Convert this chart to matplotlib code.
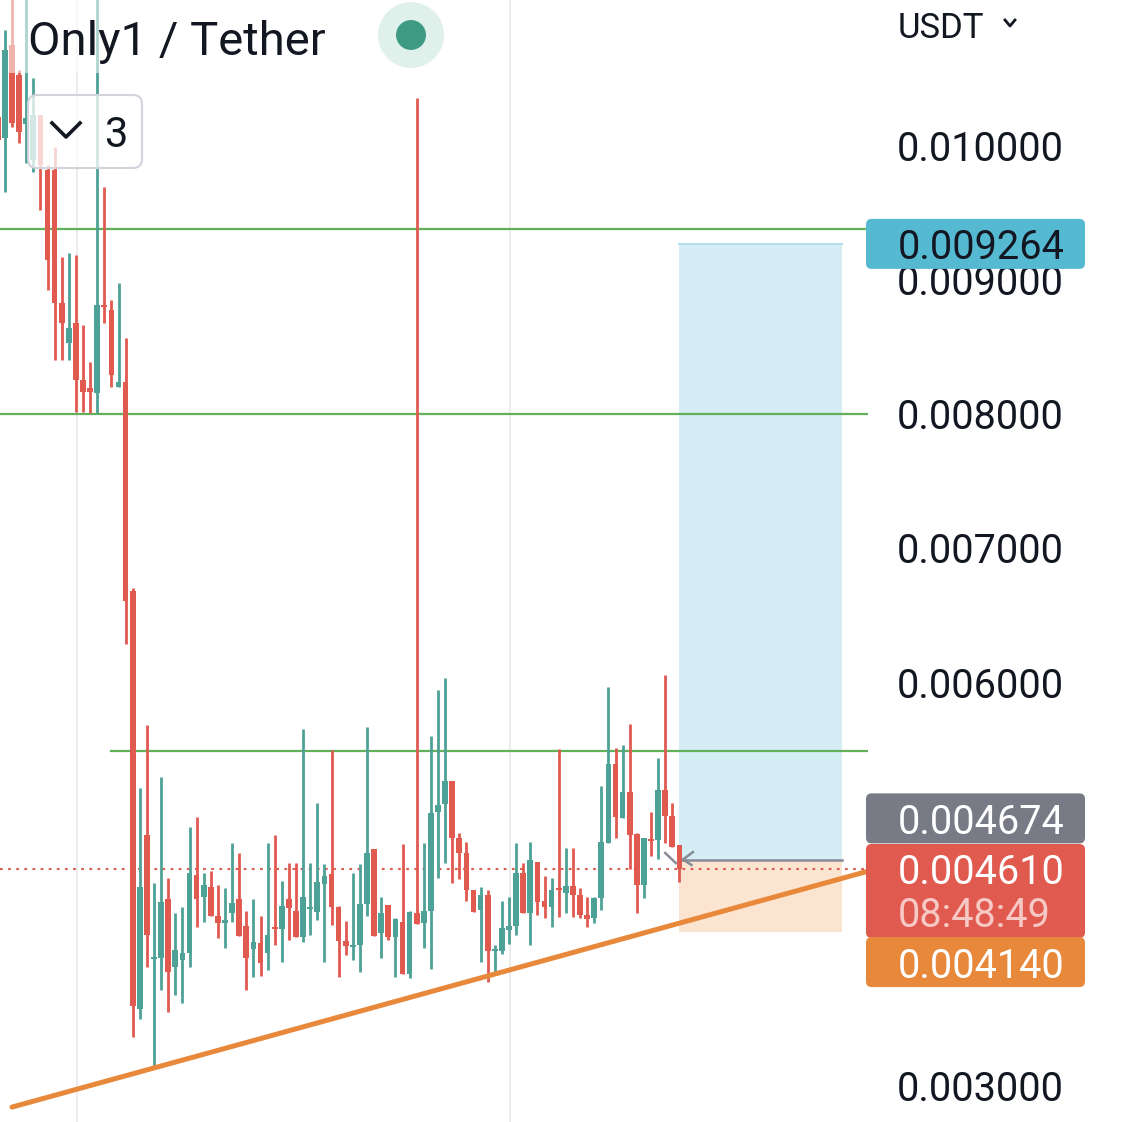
import numpy as np
import matplotlib.pyplot as plt
from matplotlib.patches import FancyBboxPatch, Rectangle, Circle

plt.rcParams['font.family'] = ['Roboto', 'DejaVu Sans']

# OHLC in 1e-6 USDT, first candle (-1) is cut by the left edge
candle_idx = list(range(-1, 96))
opens = [10209, 10052, 10745, 10522, 10157, 9889, 10224, 9814, 9814, 8824,
         8526, 8675, 8251, 8191, 8154, 8809, 8772, 8198, 8236, 6679,
         3567, 4863, 3939, 3947, 4386, 3880, 3932, 3984, 4565, 4401,
         4475, 4259, 4207, 4282, 4386, 4185, 4014, 4058, 3984, 4178,
         4163, 4386, 4297, 4103, 4312, 4289, 4498, 4572, 4327, 4073,
         4029, 4044, 4349, 4758, 4133, 4341, 4103, 4215, 3828, 4282,
         4207, 4297, 5034, 5094, 5265, 4840, 4729, 4453, 4304, 4416,
         3999, 3999, 4155, 4185, 4580, 4282, 4662, 4371, 4327, 4468,
         4431, 4483, 4416, 4267, 4245, 4393, 4803, 5391, 4989, 5183,
         4870, 4490, 4833, 4825, 5198, 5004, 4788]
highs = [10335, 10857, 11154, 10559, 11117, 10499, 10224, 9851, 9985, 9166,
         9196, 9181, 8660, 8385, 11229, 9688, 8846, 8973, 8563, 6702,
         5213, 5682, 4505, 5294, 4542, 4282, 4327, 4922, 4997, 4580,
         4595, 4490, 4468, 4803, 4729, 4297, 4386, 4259, 4803, 4863,
         4520, 4654, 4654, 5652, 4654, 5101, 4647, 5495, 4334, 4222,
         4580, 4647, 5667, 4758, 4401, 4341, 4245, 4796, 4297, 10350,
         4803, 5600, 5942, 6032, 5265, 4877, 4810, 4453, 4475, 4453,
         4044, 4371, 4401, 4803, 4654, 4810, 4662, 4557, 4542, 5503,
         4766, 4766, 4468, 4401, 4401, 5227, 5965, 5510, 5533, 5689,
         4877, 4840, 5034, 5436, 6054, 5101, 4788]
lows = [9851, 9650, 10134, 10015, 9866, 9799, 9516, 8921, 8399, 8399,
        8399, 8012, 8012, 8005, 8005, 8675, 8198, 8198, 6285, 3358,
        3493, 3880, 3128, 3708, 3545, 3671, 3612, 3880, 4178, 4215,
        4259, 4096, 4021, 4215, 4111, 3708, 3805, 3813, 3857, 4044,
        3917, 4081, 4103, 4066, 4118, 4230, 3917, 4192, 3805, 3969,
        3932, 3842, 4259, 4111, 3947, 4081, 3805, 3828, 3798, 4200,
        4021, 3865, 4542, 4654, 4505, 4535, 4371, 4289, 3917, 3768,
        3828, 3977, 4051, 4118, 4282, 4044, 4267, 4245, 4178, 4252,
        4282, 4252, 4245, 4178, 4207, 4304, 4803, 4840, 4989, 4609,
        4282, 4393, 4706, 4684, 4803, 4773, 4513]
closes = [10038, 10708, 10164, 10097, 10201, 10224, 9851, 9144, 8824, 8675,
          8638, 8251, 8161, 8161, 8809, 8794, 8288, 8236, 6605, 3589,
          4475, 4118, 3954, 4364, 3842, 4006, 3984, 4580, 4386, 4490,
          4259, 4207, 4230, 4356, 4111, 3947, 4066, 3910, 4118, 4163,
          4334, 4319, 4103, 4401, 4319, 4513, 4557, 4327, 4073, 4036,
          4044, 4349, 4729, 4111, 4282, 4103, 4237, 3828, 4289, 4200,
          4297, 5026, 5086, 5265, 4840, 4729, 4453, 4289, 4416, 3999,
          4006, 4170, 4185, 4580, 4282, 4676, 4364, 4327, 4453, 4453,
          4483, 4416, 4267, 4237, 4393, 4810, 5391, 4997, 5183, 4863,
          4490, 4840, 4818, 5198, 5004, 4773, 4610]

entry_price = 0.004674
last_price = 0.004610
stop_price = 0.004140
target_price = 0.009264
resistance_levels = [0.009375, 0.008000]
range_top = 0.005488
trend_x = [1.0, 121.6]
trend_y = [0.002837, 0.004594]
# 0.004 and 0.005 sit under the price boxes, so they are not shown
price_ticks = [0.003, 0.006, 0.007, 0.008, 0.009, 0.010]
time_left = '08:48:49'

UP = '#4ea196'
DOWN = '#e05a50'
W, H = 1125, 1122

fig = plt.figure(figsize=(W / 100, H / 100), dpi=100)
ax = fig.add_axes([0, 0, 868 / W, 1])
ax.set_xlim(-0.69, 121.56)
ax.set_ylim(0.002726, 0.01108)
for s in ax.spines.values():
    s.set_visible(False)
ax.set_xticks([])
ax.yaxis.tick_right()
ax.set_yticks(price_ticks)
ax.set_yticklabels([f'{t:.6f}' for t in price_ticks])
ax.tick_params(axis='y', length=0, pad=21, labelsize=28.5, labelcolor='#131722')

# date separators
for xv in [10.15, 71.15]:
    ax.axvline(xv, color='#ececec', lw=1.5, zorder=0)

x = np.array(candle_idx)
o = np.array(opens) * 1e-6
h = np.array(highs) * 1e-6
l = np.array(lows) * 1e-6
c = np.array(closes) * 1e-6
cols = [UP if cc >= oo else DOWN for oo, cc in zip(o, c)]
ax.vlines(x, l, h, colors=cols, lw=2.0, zorder=3)
body = np.maximum(np.abs(c - o), 1.6e-5)
ax.bar(x, body, bottom=np.minimum(o, c), width=0.8, color=cols, zorder=3)

# horizontal levels
for lv in resistance_levels:
    ax.axhline(lv, color='#62b15a', lw=1.6, zorder=2)
ax.plot([15, 130], [range_top, range_top], color='#62b15a', lw=1.6, zorder=2)
ax.axhline(last_price, color=DOWN, lw=1.5, ls=(0, (1.3, 2.6)), zorder=2)

# long position tool
x0, x1 = 95.0, 117.9
ax.add_patch(Rectangle((x0, entry_price), x1 - x0, target_price - entry_price,
                       color='#d5edf4', lw=0, zorder=1))
ax.add_patch(Rectangle((x0, stop_price), x1 - x0, entry_price - stop_price,
                       color='#fbe4d0', lw=0, zorder=1))
ax.plot([x0, x1], [target_price, target_price], color='#b3dfec', lw=1.5, zorder=1)
ax.plot([x0, x1], [entry_price, entry_price], color='#878b95', lw=1.8, zorder=2)
ax.plot([93.0, 94.5], [0.004729, 0.004654], color='#878b95', lw=1.8, zorder=4)
ax.plot([96.9, 95.5, 96.7], [0.004736, 0.004680, 0.004640], color='#878b95', lw=1.8, zorder=4)

# trend line
ax.plot(trend_x, trend_y, color='#e8883a', lw=3.6, solid_capstyle='round', zorder=4)


def fy(price):
    return ax.transData.transform((0, price))[1] / H


def px(xp, yp):
    return xp / W, 1 - yp / H


def price_box(price, face, tcolor, dy=0, below=0):
    yc = fy(price) + dy / H
    top = yc + 25 / H
    hh = (50 + below) / H
    fig.patches.append(FancyBboxPatch((866 / W, top - hh), 219 / W, hh,
                                      boxstyle='round,pad=0,rounding_size=0.005',
                                      fc=face, ec='none', transform=fig.transFigure,
                                      figure=fig, zorder=5))
    fig.text(898 / W, yc, f'{price:.6f}', color=tcolor, fontsize=28.5,
             va='center_baseline', ha='left', zorder=6)
    return yc


price_box(target_price, '#56b9d2', '#131722')
price_box(entry_price, '#787b86', 'white', dy=42)
yc = price_box(last_price, DOWN, 'white', below=44)
fig.text(898 / W, yc - 43 / H, time_left, color='#f6c9c5', fontsize=28.5,
         va='center_baseline', ha='left', zorder=6)
price_box(stop_price, '#e8883a', 'white', dy=-30)

# header widgets
fig.patches.append(Rectangle(px(9, 73), 451 / W, 73 / H, fc='white', alpha=0.55,
                             ec='none', transform=fig.transFigure, figure=fig, zorder=4))
fig.text(*px(28, 37), 'Only1 / Tether', fontsize=34, color='#131722',
         va='center_baseline', ha='left', zorder=6)
fig.patches.append(Circle(px(411, 35), 33 / W, fc='#e0f1ec', ec='none',
                          transform=fig.transFigure, figure=fig, zorder=6))
fig.patches.append(Circle(px(411, 35), 15 / W, fc='#3f9a83', ec='none',
                          transform=fig.transFigure, figure=fig, zorder=7))
fig.patches.append(FancyBboxPatch(px(28, 168), 114 / W, 73 / H,
                                  boxstyle='round,pad=0,rounding_size=0.008',
                                  fc=(1, 1, 1, 0.75), ec='#d1d4dc', lw=1.5,
                                  transform=fig.transFigure, figure=fig, zorder=4))
chev = np.array([px(52, 123), px(66, 137), px(80, 123)])
fig.lines.append(plt.Line2D(chev[:, 0], chev[:, 1], color='#131722', lw=2.6,
                            transform=fig.transFigure, figure=fig, zorder=5))
fig.text(*px(116, 131), '3', fontsize=30, color='#131722', ha='center',
         va='center_baseline', zorder=5)
fig.text(*px(898, 25), 'USDT', fontsize=25, color='#131722', ha='left',
         va='center_baseline')
chev2 = np.array([px(1005, 20), px(1010, 26), px(1015, 20)])
fig.lines.append(plt.Line2D(chev2[:, 0], chev2[:, 1], color='#131722', lw=2,
                            transform=fig.transFigure, figure=fig))

fig.savefig('out.png', dpi=100)
